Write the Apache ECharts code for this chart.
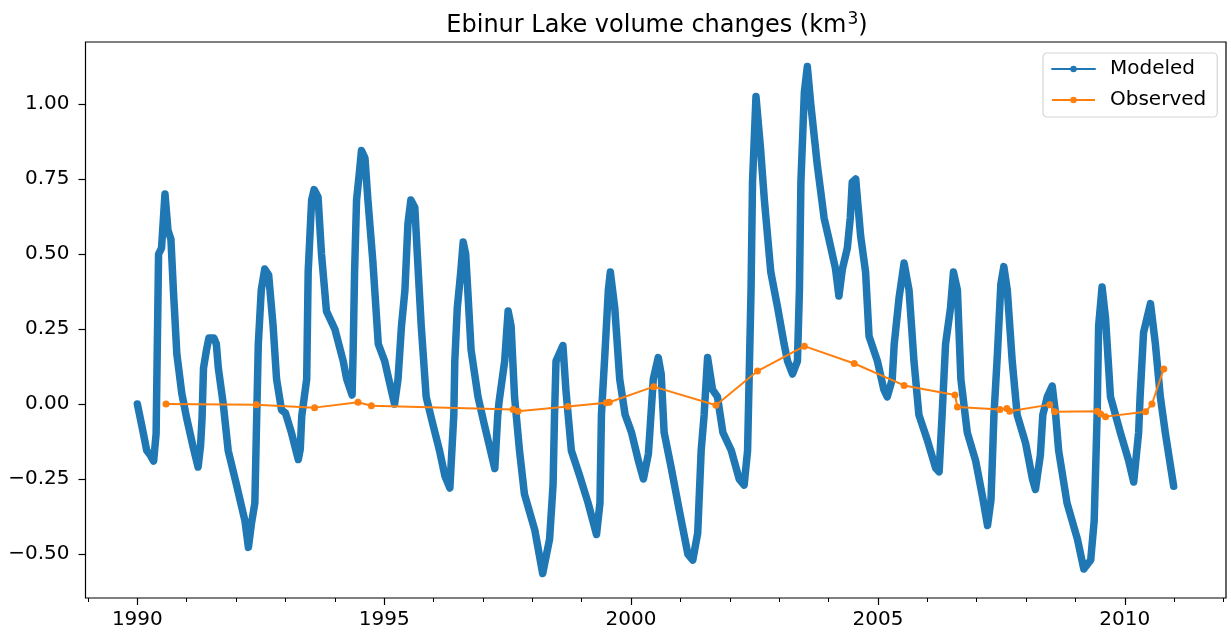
<!DOCTYPE html>
<html><head><meta charset="utf-8">
<script src="https://cdn.jsdelivr.net/npm/echarts@6/dist/echarts.min.js"></script>
<style>html,body{margin:0;padding:0;background:#fff}#c{width:1231px;height:638px}</style>
</head><body><div id="c"></div>
<script>
const modeledYears = [
1990.00,1990.10,1990.19,1990.26,1990.33,1990.38,1990.43,1990.49,1990.56,1990.62,1990.68,1990.73,1990.80,1990.90,
1991.00,1991.13,1991.23,1991.28,1991.31,1991.34,1991.40,1991.45,1991.55,1991.60,1991.64,1991.74,1991.84,
1992.01,1992.18,1992.25,1992.31,1992.38,1992.41,1992.45,1992.51,1992.58,1992.66,1992.75,1992.82,1992.92,
1993.00,1993.12,1993.26,1993.30,1993.33,1993.43,1993.46,1993.53,1993.58,1993.66,1993.73,1993.83,
1994.00,1994.17,1994.24,1994.35,1994.37,1994.40,1994.44,1994.49,1994.54,1994.61,1994.67,1994.77,1994.88,
1995.01,1995.11,1995.21,1995.28,1995.35,1995.42,1995.48,1995.54,1995.62,1995.69,1995.75,1995.85,1995.99,
1996.12,1996.23,1996.33,1996.41,1996.43,1996.48,1996.55,1996.60,1996.65,1996.70,1996.76,1996.90,
1997.03,1997.24,1997.30,1997.33,1997.44,1997.51,1997.57,1997.64,1997.74,1997.84,
1998.05,1998.21,1998.35,1998.42,1998.45,1998.48,1998.62,1998.68,1998.79,1998.96,
1999.13,1999.30,1999.37,1999.40,1999.47,1999.54,1999.58,1999.67,1999.77,1999.88,
2000.01,2000.15,2000.25,2000.35,2000.38,2000.45,2000.55,2000.61,2000.67,2000.81,2000.98,
2001.15,2001.25,2001.35,2001.42,2001.48,2001.55,2001.65,2001.75,2001.86,
2002.03,2002.19,2002.29,2002.36,2002.43,2002.46,2002.53,2002.62,2002.70,2002.83,2002.97,
2003.10,2003.17,2003.27,2003.37,2003.41,2003.44,2003.51,2003.57,2003.64,2003.77,2003.91,
2004.01,2004.14,2004.21,2004.28,2004.38,2004.44,2004.48,2004.55,2004.65,2004.75,2004.82,2004.99,
2005.12,2005.19,2005.29,2005.33,2005.43,2005.53,2005.63,2005.73,2005.83,
2006.00,2006.17,2006.24,2006.30,2006.37,2006.47,2006.53,2006.61,2006.68,2006.81,2006.98,
2007.12,2007.22,2007.29,2007.35,2007.42,2007.49,2007.55,2007.62,2007.72,2007.82,2007.99,
2008.13,2008.19,2008.29,2008.34,2008.43,2008.53,2008.60,2008.66,2008.83,
2009.04,2009.17,2009.31,2009.38,2009.44,2009.47,2009.54,2009.61,2009.71,2009.91,
2010.08,2010.18,2010.28,2010.31,2010.38,2010.52,2010.62,2010.72,2010.82,2010.99
];
const modeledValues = [
0.00,-0.08,-0.155,-0.17,-0.19,-0.10,0.50,0.52,0.70,0.58,0.55,0.38,0.167,0.036,
-0.048,-0.143,-0.21,-0.14,-0.05,0.12,0.18,0.22,0.22,0.20,0.12,0.00,-0.155,
-0.27,-0.39,-0.478,-0.40,-0.33,-0.10,0.20,0.38,0.45,0.43,0.26,0.083,-0.02,
-0.03,-0.095,-0.185,-0.15,-0.04,0.083,0.44,0.68,0.715,0.69,0.50,0.31,
0.25,0.143,0.083,0.03,0.167,0.44,0.68,0.76,0.845,0.82,0.68,0.476,0.20,
0.143,0.07,0.00,0.083,0.26,0.38,0.60,0.68,0.655,0.44,0.26,0.024,-0.07,
-0.155,-0.24,-0.28,-0.036,0.143,0.32,0.44,0.54,0.50,0.357,0.18,0.024,
-0.07,-0.215,-0.036,0.012,0.143,0.31,0.26,0.024,-0.155,-0.30,
-0.42,-0.565,-0.45,-0.27,-0.036,0.143,0.195,0.048,-0.155,-0.24,
-0.33,-0.435,-0.33,-0.036,0.167,0.38,0.44,0.32,0.083,-0.036,
-0.095,-0.19,-0.25,-0.167,-0.095,0.083,0.155,0.10,-0.095,-0.21,-0.357,
-0.50,-0.52,-0.43,-0.155,-0.036,0.155,0.048,0.024,-0.095,
-0.155,-0.25,-0.27,-0.155,0.38,0.74,1.025,0.857,0.68,0.44,0.32,
0.20,0.143,0.10,0.143,0.38,0.74,1.04,1.125,1.00,0.80,0.62,
0.548,0.452,0.36,0.45,0.52,0.62,0.74,0.75,0.56,0.44,0.226,0.143,
0.048,0.024,0.083,0.20,0.357,0.47,0.38,0.143,-0.036,
-0.12,-0.214,-0.226,-0.036,0.20,0.32,0.44,0.38,0.083,-0.095,-0.19,
-0.31,-0.405,-0.32,-0.036,0.167,0.40,0.458,0.38,0.143,-0.036,-0.13,
-0.25,-0.285,-0.17,-0.036,0.024,0.06,-0.036,-0.155,-0.33,
-0.45,-0.55,-0.52,-0.39,-0.036,0.26,0.39,0.286,0.024,-0.095,
-0.19,-0.26,-0.095,0.024,0.238,0.335,0.20,0.024,-0.095,-0.274
];
const observedYears = [1990.58,1992.41,1993.59,1994.47,1994.74,1997.61,1997.71,1998.72,1999.50,1999.56,2000.46,2001.72,2002.56,2003.51,2004.52,2005.53,2006.56,2006.61,2007.47,2007.61,2007.67,2008.48,2008.58,2009.44,2009.51,2009.61,2010.42,2010.55,2010.79];
const observedValues = [0.0,-0.002,-0.012,0.006,-0.006,-0.018,-0.024,-0.008,0.004,0.006,0.058,-0.004,0.11,0.193,0.135,0.062,0.03,-0.01,-0.018,-0.015,-0.024,-0.002,-0.026,-0.024,-0.033,-0.042,-0.026,0.0,0.117];
const yTickValues = [-0.5,-0.25,0,0.25,0.5,0.75,1.0];
const xLabelYears = [1990,1995,2000,2005,2010];
const xMinorYears = [1989,1990,1991,1992,1993,1994,1995,1996,1997,1998,1999,2000,2001,2002,2003,2004,2005,2006,2007,2008,2009,2010,2011,2012];
const titleText = 'Ebinur Lake volume changes (km';

const FONT = 'DejaVu Sans';
const chart = echarts.init(document.getElementById('c'), null, {renderer: 'canvas'});
const zip = (a, b) => a.map((v, i) => [v, b[i]]);
const fmtY = v => (v < 0 ? '\u2212' : '') + Math.abs(v).toFixed(2);

chart.setOption({
  animation: false,
  backgroundColor: '#fff',
  textStyle: {fontFamily: FONT},
  title: {
    text: '{a|' + titleText + '}{s|3}{a|)}',
    left: 652, top: 6, textAlign: 'center',
    textStyle: {
      fontWeight: 'normal',
      rich: {
        a: {fontFamily: FONT, fontSize: 24, fontWeight: 'normal', color: '#000'},
        s: {fontFamily: FONT, fontSize: 17, fontWeight: 'normal', color: '#000', padding: [0, 0, 12, 1]}
      }
    }
  },
  grid: {left: 85.5, right: 5, top: 42, bottom: 40, show: true, borderColor: '#000', borderWidth: 1.2, backgroundColor: 'transparent'},
  legend: {
    orient: 'vertical', left: 1043, top: 53,
    data: ['Modeled', 'Observed'],
    itemWidth: 43, itemHeight: 8, itemGap: 11,
    padding: [6, 11, 7, 8],
    backgroundColor: '#fff', borderColor: '#d5d5d5', borderWidth: 1.2, borderRadius: 4,
    lineStyle: {width: 2},
    textStyle: {fontFamily: FONT, fontSize: 20, color: '#000', lineHeight: 20, padding: [0, 0, 0, 10]}
  },
  xAxis: [{
    type: 'value', min: 1988.95, max: 2012.05, position: 'bottom',
    axisLine: {show: false, onZero: false},
    splitLine: {show: false},
    axisTick: {show: true, length: 7, lineStyle: {color: '#000', width: 1.2}, customValues: xLabelYears},
    axisLabel: {show: true, customValues: xLabelYears, margin: 12, fontFamily: FONT, fontSize: 20, color: '#000', formatter: v => String(Math.round(v))}
  }, {
    type: 'value', min: 1988.95, max: 2012.05, position: 'bottom',
    axisLine: {show: false, onZero: false},
    splitLine: {show: false},
    axisTick: {show: true, length: 4, lineStyle: {color: '#000', width: 1}, customValues: xMinorYears},
    axisLabel: {show: false}
  }],
  yAxis: {
    type: 'value', min: -0.6467, max: 1.207,
    axisLine: {show: false, onZero: false},
    splitLine: {show: false},
    axisTick: {show: true, length: 7, lineStyle: {color: '#000', width: 1.2}, customValues: yTickValues},
    axisLabel: {show: true, customValues: yTickValues, margin: 16, fontFamily: FONT, fontSize: 20, color: '#000', formatter: fmtY}
  },
  series: [{
    name: 'Modeled', type: 'line', xAxisIndex: 0,
    data: zip(modeledYears, modeledValues),
    symbol: 'circle', showSymbol: false, symbolSize: 7,
    color: '#1f77b4',
    lineStyle: {width: 7.5, color: '#1f77b4', cap: 'round', join: 'round'},
    z: 2
  }, {
    name: 'Observed', type: 'line', xAxisIndex: 0,
    data: zip(observedYears, observedValues),
    symbol: 'circle', showSymbol: true, symbolSize: 7,
    color: '#ff7f0e',
    itemStyle: {color: '#ff7f0e'},
    lineStyle: {width: 2, color: '#ff7f0e'},
    z: 3
  }]
});
</script>
</body></html>
